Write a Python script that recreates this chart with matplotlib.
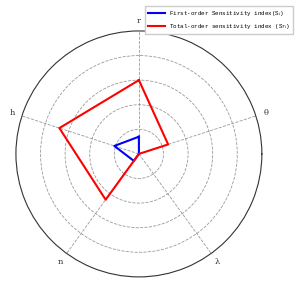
import numpy as np
import matplotlib.pyplot as plt

labels = ['r', 'θ', 'λ', 'n', 'h']
first_order = [0.14, 0.0, 0.0, 0.07, 0.21]
total_order = [0.60, 0.25, 0.0, 0.46, 0.68]

angles = np.mod(np.pi / 2 - np.arange(len(labels)) * 2 * np.pi / len(labels), 2 * np.pi)
ang = np.append(angles, angles[0])

fig = plt.figure(figsize=(3, 2.84), dpi=100)
ax = fig.add_axes([0.053, 0.025, 0.82, 0.866], projection='polar')

ax.plot(ang, first_order + first_order[:1], color='blue', lw=1.5,
        label='First-order Sensitivity index(S$_i$)')
ax.plot(ang, total_order + total_order[:1], color='red', lw=1.5,
        label='Total-order sensitivity index (S$_{Ti}$)')

ax.set_thetalim(0, 2 * np.pi)
ax.set_ylim(0, 1.0)
ax.set_yticks([0.2, 0.4, 0.6, 0.8])
ax.set_yticklabels([])
ax.set_xticks(angles)
ax.set_xticklabels(labels, family='DejaVu Serif', fontsize=6, color='#333333')
ax.grid(True, color='gray', ls='--', lw=0.6, alpha=0.8)
ax.spines['polar'].set_color('#333333')
ax.spines['polar'].set_linewidth(0.8)
ax.tick_params(axis='x', pad=-3)

fig.legend(loc='upper right', bbox_to_anchor=(0.978, 0.978), borderaxespad=0,
           prop={'family': 'Liberation Mono', 'size': 4.2}, handlelength=2.8,
           labelspacing=0.6, borderpad=0.5, framealpha=1, edgecolor='#cccccc',
           fancybox=False)

fig.savefig('out.png', dpi=100)
